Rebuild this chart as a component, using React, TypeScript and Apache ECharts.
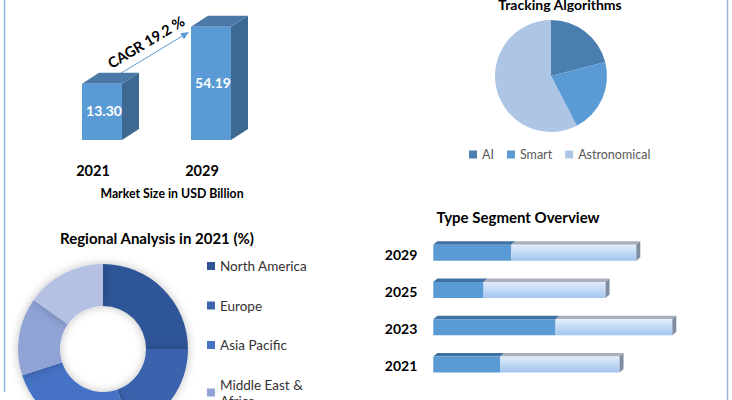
import React, { useEffect, useRef } from "react";
import * as echarts from "echarts";

// ---- data ----
const barYears = ["2021", "2029"];
const marketSize = [13.3, 54.19];

const trackNames = ["AI", "Smart", "Astronomical"];
const trackShare = [21, 21.4, 57.6];

const regionNames = ["North America", "Europe", "Asia Pacific", "Middle East & Africa", "South America"];
const regionShare = [25, 19.7, 25.3, 14.8, 15.2];

const typeYears = ["2021", "2023", "2025", "2029"];
const typeA = [26.8, 48.9, 20.1, 31.2];
const typeB = [47.7, 46.7, 48.8, 50];

const FONT = "Lato, 'Liberation Sans', sans-serif";
const Y_MIN = -27;

export default function App() {
  const ref = useRef<HTMLDivElement>(null);
  useEffect(() => {
    if (!ref.current) return;
    const chart = echarts.init(ref.current, null, { renderer: "svg" });

    const vBar = (params: any, api: any) => {
      const cat = api.value(0);
      const v = api.value(1);
      const base = api.coord([cat, Y_MIN]);
      const top = api.coord([cat, v]);
      const w = 40, dx = 17, dy = 11;
      const x0 = base[0] - w / 2;
      const ty = top[1], by = base[1];
      return {
        type: "group",
        children: [
          { type: "polygon", shape: { points: [[x0 + w, ty], [x0 + w + dx, ty - dy], [x0 + w + dx, by - dy], [x0 + w, by]] }, style: { fill: "#3d6891" } },
          { type: "polygon", shape: { points: [[x0, ty], [x0 + w, ty], [x0 + w + dx, ty - dy], [x0 + dx, ty - dy]] }, style: { fill: "#4a79a8" } },
          { type: "rect", shape: { x: x0, y: ty, width: w, height: by - ty }, style: { fill: "#5b9bd5" } },
          {
            type: "text",
            x: x0 + w / 2 + 2,
            y: (ty + by) / 2 - 1,
            style: { text: marketSize[params.dataIndex].toFixed(2), fill: "#fff", font: `bold 14px ${FONT}`, align: "center", verticalAlign: "middle" },
          },
        ],
      };
    };

    const hBar = (isLast: boolean, dark: boolean) => (params: any, api: any) => {
      const cat = api.value(2);
      const s = api.coord([api.value(0), cat]);
      const e = api.coord([api.value(1), cat]);
      const h = 16, dx = 4, dy = 3.5;
      const y0 = s[1] - 9.5;
      const children: any[] = [
        { type: "polygon", shape: { points: [[s[0], y0], [e[0], y0], [e[0] + dx, y0 - dy], [s[0] + dx, y0 - dy]] }, style: { fill: dark ? "#3f72a2" : "#a9b0bb" } },
        {
          type: "rect",
          shape: { x: s[0], y: y0, width: e[0] - s[0], height: h },
          style: {
            fill: dark
              ? "#5b9bd5"
              : new echarts.graphic.LinearGradient(0, 0, 0, 1, [
                  { offset: 0, color: "#e2edfa" },
                  { offset: 1, color: "#a3c5f0" },
                ]),
          },
        },
      ];
      if (isLast) {
        children.push({ type: "polygon", shape: { points: [[e[0], y0], [e[0] + dx, y0 - dy], [e[0] + dx, y0 + h - dy], [e[0], y0 + h]] }, style: { fill: "#7f8da3" } });
      }
      return { type: "group", children };
    };

    // CAGR arrow
    const ax0 = 113, ay0 = 78, ax1 = 189, ay1 = 32;
    const len = Math.hypot(ax1 - ax0, ay1 - ay0);
    const ux = (ax1 - ax0) / len, uy = (ay1 - ay0) / len;
    const hl = 8, hw = 3.5;
    const bx = ax1 - ux * hl, byy = ay1 - uy * hl;

    chart.setOption({
      animation: false,
      backgroundColor: "#ffffff",
      textStyle: { fontFamily: FONT },
      grid: [
        { left: 47.5, width: 218, bottom: 260, top: 18.7 },
        { left: 433.3, width: 250, top: 235.5, height: 149 },
      ],
      xAxis: [
        {
          gridIndex: 0,
          type: "category",
          data: barYears,
          axisLine: { show: false },
          axisTick: { show: false },
          axisLabel: { color: "#000", fontWeight: "bold", fontSize: 14.5, margin: 23, padding: [0, 18, 0, 0], fontFamily: FONT },
        },
        { gridIndex: 1, type: "value", min: 0, max: 100, show: false },
      ],
      yAxis: [
        { gridIndex: 0, type: "value", min: Y_MIN, max: 60, show: false },
        {
          gridIndex: 1,
          type: "category",
          data: typeYears,
          axisLine: { show: false },
          axisTick: { show: false },
          axisLabel: { color: "#000", fontWeight: "bold", fontSize: 14, margin: 16, fontFamily: FONT },
        },
      ],
      legend: [
        {
          data: trackNames,
          orient: "horizontal",
          left: 464,
          top: 143,
          itemWidth: 8,
          itemHeight: 8,
          itemGap: 13,
          icon: "rect",
          textStyle: { color: "#595959", fontSize: 12.5, fontFamily: FONT },
        },
        {
          data: regionNames,
          orient: "vertical",
          left: 202,
          top: 253,
          height: 400,
          itemWidth: 8,
          itemHeight: 8,
          itemGap: 23.5,
          icon: "rect",
          formatter: (n: string) => n.replace(" & ", " &\n"),
          textStyle: { color: "#333333", fontSize: 13.5, lineHeight: 16, fontFamily: FONT },
        },
      ],
      series: [
        {
          type: "custom",
          xAxisIndex: 0,
          yAxisIndex: 0,
          renderItem: vBar,
          encode: { x: 0, y: 1 },
          data: barYears.map((_, i) => [i, marketSize[i]]),
        },
        {
          type: "custom",
          xAxisIndex: 1,
          yAxisIndex: 1,
          renderItem: hBar(false, true),
          encode: { x: [0, 1], y: 2 },
          data: typeYears.map((_, i) => [0, typeA[i], i]),
        },
        {
          type: "custom",
          xAxisIndex: 1,
          yAxisIndex: 1,
          renderItem: hBar(true, false),
          encode: { x: [0, 1], y: 2 },
          data: typeYears.map((_, i) => [typeA[i], typeA[i] + typeB[i], i]),
        },
        {
          type: "pie",
          center: [551, 76],
          radius: 56,
          startAngle: 90,
          label: { show: false },
          labelLine: { show: false },
          silent: true,
          data: trackNames.map((n, i) => ({ name: n, value: trackShare[i] })),
          color: ["#4a7eb0", "#5b9bd5", "#adc6e6"],
        },
        {
          type: "pie",
          center: [103, 349],
          radius: [43, 85],
          startAngle: 90,
          label: { show: false },
          labelLine: { show: false },
          silent: true,
          itemStyle: { shadowBlur: 10, shadowColor: "rgba(0,0,0,0.25)" },
          data: regionNames.map((n, i) => ({ name: n, value: regionShare[i] })),
          color: ["#2f5597", "#3b64ad", "#4472c4", "#8fa3d5", "#b4c1e3"],
        },
      ],
      graphic: [
        { type: "line", shape: { x1: 4.5, y1: 0, x2: 4.5, y2: 392 }, style: { stroke: "#8db9e8", lineWidth: 1.5 } },
        { type: "line", shape: { x1: 727.5, y1: 0, x2: 727.5, y2: 400 }, style: { stroke: "#9db4da", lineWidth: 1.5 } },
        { type: "line", shape: { x1: ax0, y1: ay0, x2: bx, y2: byy }, style: { stroke: "#5b9bd5", lineWidth: 1 } },
        {
          type: "polygon",
          shape: { points: [[ax1, ay1], [bx - uy * hw, byy + ux * hw], [bx + uy * hw, byy - ux * hw]] },
          style: { fill: "#5b9bd5" },
        },
        {
          type: "text",
          x: 146,
          y: 42,
          rotation: (31 * Math.PI) / 180,
          style: { text: "CAGR 19.2 %", font: `bold 14.5px ${FONT}`, fill: "#000", align: "center", verticalAlign: "middle" },
        },
        { type: "text", x: 172, y: 193, style: { text: "Market Size in USD Billion", font: `bold 12.3px ${FONT}`, fill: "#000", align: "center", verticalAlign: "middle" } },
        { type: "text", x: 560, y: 4, style: { text: "Tracking Algorithms", font: `bold 14px ${FONT}`, fill: "#000", align: "center", verticalAlign: "middle" } },
        { type: "text", x: 157, y: 238, style: { text: "Regional Analysis in 2021 (%)", font: `bold 15px ${FONT}`, fill: "#000", align: "center", verticalAlign: "middle" } },
        { type: "text", x: 518, y: 217, style: { text: "Type Segment Overview", font: `bold 15px ${FONT}`, fill: "#000", align: "center", verticalAlign: "middle" } },
      ],
    });
    return () => chart.dispose();
  }, []);
  return <div ref={ref} style={{ position: "fixed", left: 0, top: 0, width: 732, height: 400 }} />;
}
